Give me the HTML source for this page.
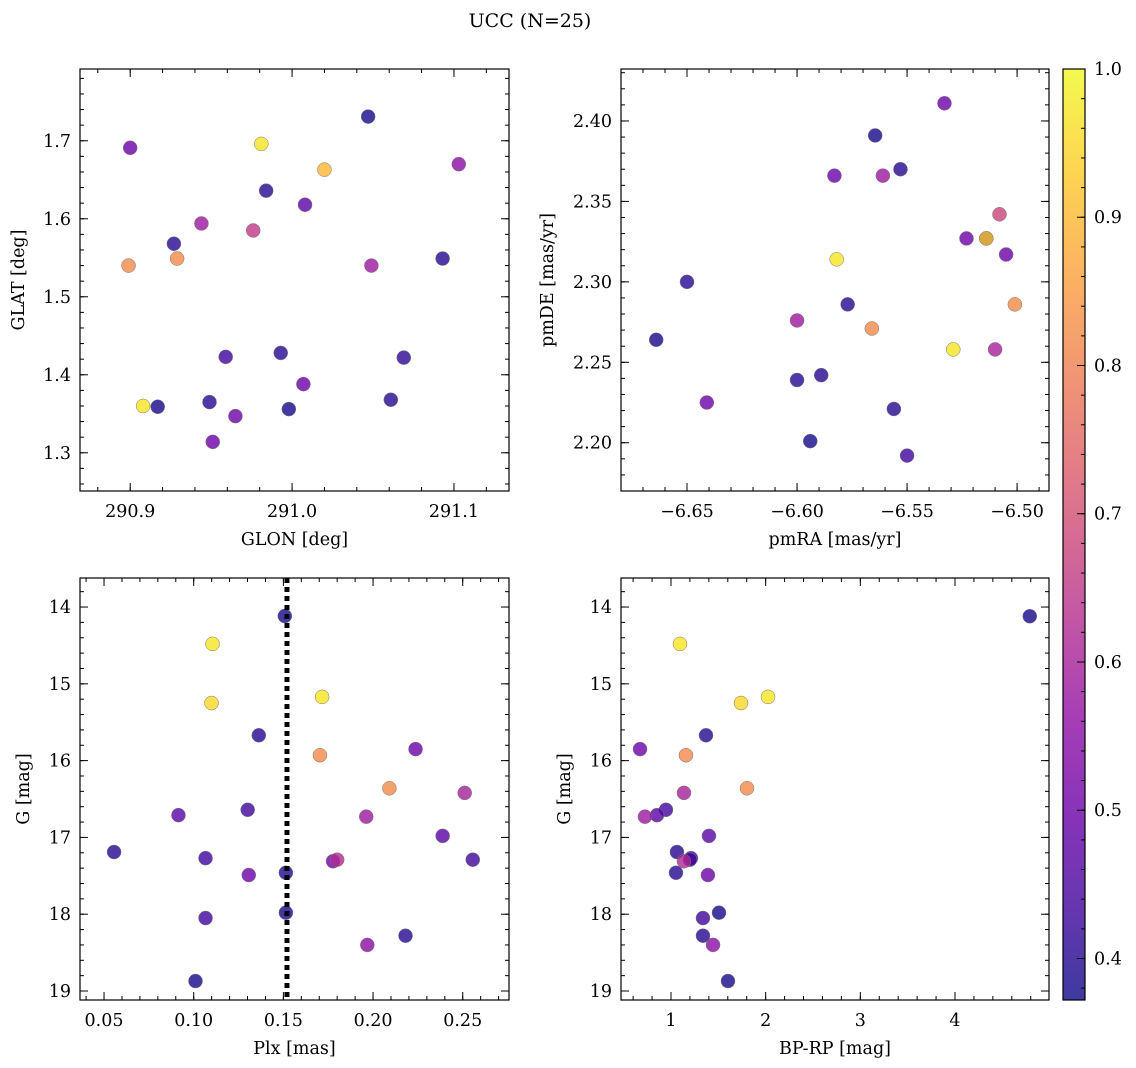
<!DOCTYPE html>
<html><head><meta charset="utf-8">
<style>
body{margin:0;background:#fff;}
svg{display:block;font-family:"DejaVu Serif","Liberation Serif",serif;}
</style></head>
<body>
<svg id="chart" width="1136" height="1068" viewBox="0 0 1136 1068" xmlns="http://www.w3.org/2000/svg">
<defs>
<linearGradient id="plasma" x1="0" y1="1" x2="0" y2="0">
<stop offset="0" stop-color="#0d0887"/><stop offset="0.1" stop-color="#41049d"/><stop offset="0.2" stop-color="#6a00a8"/><stop offset="0.3" stop-color="#8f0da4"/><stop offset="0.4" stop-color="#b12a90"/><stop offset="0.5" stop-color="#cc4778"/><stop offset="0.6" stop-color="#e16462"/><stop offset="0.7" stop-color="#f2844b"/><stop offset="0.8" stop-color="#fca636"/><stop offset="0.9" stop-color="#fcce25"/><stop offset="1" stop-color="#f0f921"/>
</linearGradient>
</defs>
<text x="530" y="27" font-size="19" text-anchor="middle">UCC (N=25)</text>
</svg>
<script>
// ---- data ----
const glon=[290.900,290.981,291.047,291.020,291.103,290.984,291.008,290.944,290.976,290.927,290.929,290.899,291.049,291.093,290.959,290.993,291.069,291.007,290.908,290.917,290.949,290.965,290.998,291.061,290.951];
const glat=[1.691,1.696,1.731,1.663,1.670,1.636,1.618,1.594,1.585,1.568,1.549,1.540,1.540,1.549,1.423,1.428,1.422,1.388,1.360,1.359,1.365,1.347,1.356,1.368,1.314];
const probA=[0.5,0.97,0.38,0.9,0.55,0.4,0.47,0.58,0.65,0.4,0.82,0.82,0.58,0.4,0.43,0.4,0.41,0.5,0.97,0.38,0.4,0.5,0.38,0.4,0.5];
const pmra=[-6.533,-6.5645,-6.553,-6.583,-6.561,-6.508,-6.523,-6.514,-6.514,-6.505,-6.582,-6.650,-6.501,-6.577,-6.664,-6.600,-6.566,-6.529,-6.510,-6.589,-6.600,-6.641,-6.556,-6.594,-6.550];
const pmde=[2.411,2.391,2.370,2.366,2.366,2.342,2.327,2.327,2.327,2.317,2.314,2.300,2.286,2.286,2.264,2.276,2.271,2.258,2.258,2.242,2.239,2.225,2.221,2.201,2.192];
const probB=[0.5,0.38,0.4,0.5,0.58,0.68,0.5,0.4,0.92,0.5,0.97,0.4,0.82,0.4,0.38,0.58,0.82,0.97,0.6,0.4,0.4,0.5,0.4,0.38,0.43];
const plx=[0.1508,0.1105,0.1716,0.1099,0.1363,0.1704,0.2237,0.2091,0.2511,0.1301,0.0915,0.1962,0.2388,0.0556,0.1066,0.1777,0.180,0.2556,0.1514,0.1307,0.1066,0.1514,0.2181,0.1968,0.101];
const gmagC=[14.117,14.48,15.17,15.25,15.67,15.93,15.85,16.36,16.42,16.64,16.71,16.73,16.98,17.19,17.27,17.31,17.29,17.29,17.46,17.49,18.05,17.98,18.28,18.40,18.87];
const probC=[0.38,0.97,0.97,0.95,0.4,0.82,0.5,0.82,0.6,0.43,0.47,0.58,0.47,0.4,0.43,0.5,0.62,0.43,0.4,0.5,0.43,0.38,0.4,0.55,0.38];
const bprp=[4.79,1.095,2.025,1.74,1.37,0.673,1.158,1.803,1.137,0.947,0.852,0.725,1.401,1.063,1.211,1.2,1.137,1.053,1.39,1.338,1.507,1.338,1.444,1.602];
const gmagD=[14.12,14.48,15.17,15.25,15.67,15.85,15.93,16.36,16.42,16.64,16.71,16.73,16.98,17.19,17.27,17.29,17.31,17.46,17.49,18.05,17.98,18.28,18.40,18.87];
const probD=[0.38,0.97,0.97,0.95,0.4,0.5,0.82,0.82,0.6,0.43,0.47,0.58,0.47,0.4,0.43,0.43,0.62,0.4,0.5,0.43,0.38,0.4,0.55,0.38];
const plxLine=[0.152];
const ticksA_x=[290.9,291.0,291.1], ticksA_y=[1.3,1.4,1.5,1.6,1.7];
const ticksB_x=[-6.65,-6.60,-6.55,-6.50], ticksB_y=[2.20,2.25,2.30,2.35,2.40];
const ticksC_x=[0.05,0.10,0.15,0.20,0.25], ticksG=[14,15,16,17,18,19];
const ticksD_x=[1,2,3,4];
const ticksCb=[0.4,0.5,0.6,0.7,0.8,0.9,1.0];
// ---- helpers ----
const NS="http://www.w3.org/2000/svg";
const svg=document.getElementById('chart');
function mk(tag,attrs,parent){const e=document.createElementNS(NS,tag);for(const k in attrs)e.setAttribute(k,attrs[k]);(parent||svg).appendChild(e);return e;}
const stops=[[0,[13,8,135]],[0.1,[65,4,157]],[0.2,[106,0,168]],[0.3,[143,13,164]],[0.4,[177,42,144]],[0.5,[204,71,120]],[0.6,[225,100,98]],[0.7,[242,132,75]],[0.8,[252,166,54]],[0.9,[252,206,37]],[1,[240,249,33]]];
const vmin=0.372,vmax=1.0;
function plasma(v){let t=(v-vmin)/(vmax-vmin);t=Math.max(0,Math.min(1,t));
 for(let i=1;i<stops.length;i++){if(t<=stops[i][0]){const a=stops[i-1],b=stops[i];const f=(t-a[0])/(b[0]-a[0]);
 const c=a[1].map((x,j)=>Math.round(x+(b[1][j]-x)*f));return `rgb(${c[0]},${c[1]},${c[2]})`;}}return 'rgb(240,249,33)';}
const FS=17.5;
function panel(p){
 const g=mk('g',{});
 
 
 const sx=v=>p.x0+(v-p.xmin)/(p.xmax-p.xmin)*(p.x1-p.x0);
 const sy=v=>p.y1-(v-p.ymin)/(p.ymax-p.ymin)*(p.y1-p.y0);
 const pts=mk('g',{},g);
 
 
 for(let i=0;i<p.xs.length;i++){
  const c=mk('circle',{cx:sx(p.xs[i]),cy:sy(p.ys[i]),r:7,fill:plasma(p.cs[i]),'fill-opacity':0.8,stroke:'#777','stroke-width':0.5},pts);
  
  
 }
 if(p.vline){for(const v of p.vline){const l=mk('line',{x1:sx(v),x2:sx(v),y1:p.y0,y2:p.y1,stroke:'#000','stroke-width':5,'stroke-dasharray':'5 4'},g);
  
  }}
 const fr=mk('rect',{x:p.x0,y:p.y0,width:p.x1-p.x0,height:p.y1-p.y0,fill:'none',stroke:'#000','stroke-width':1.2},g);
 
 
 const tk=mk('g',{stroke:'#000','stroke-width':1},g);
 const lo=(a,b)=>Math.min(a,b),hi=(a,b)=>Math.max(a,b);
 for(let v=Math.ceil(lo(p.xmin,p.xmax)/p.xminor-1e-6)*p.xminor;v<=hi(p.xmin,p.xmax)+1e-9;v+=p.xminor){const X=sx(v);mk('line',{x1:X,x2:X,y1:p.y1,y2:p.y1-4},tk);mk('line',{x1:X,x2:X,y1:p.y0,y2:p.y0+4},tk);}
 for(let v=Math.ceil(lo(p.ymin,p.ymax)/p.yminor-1e-6)*p.yminor;v<=hi(p.ymin,p.ymax)+1e-9;v+=p.yminor){const Y=sy(v);mk('line',{x1:p.x0,x2:p.x0+4,y1:Y,y2:Y},tk);mk('line',{x1:p.x1,x2:p.x1-4,y1:Y,y2:Y},tk);}
 for(const v of p.xt){const X=sx(v);mk('line',{x1:X,x2:X,y1:p.y1,y2:p.y1-8},tk);mk('line',{x1:X,x2:X,y1:p.y0,y2:p.y0+8},tk);
  const t=mk('text',{x:X,y:p.y1+26,'font-size':FS,'text-anchor':'middle'},g);t.textContent=p.xfmt(v);
  
  }
 for(const v of p.yt){const Y=sy(v);mk('line',{x1:p.x0,x2:p.x0+8,y1:Y,y2:Y},tk);mk('line',{x1:p.x1,x2:p.x1-8,y1:Y,y2:Y},tk);
  const t=mk('text',{x:p.x0-9,y:Y+6,'font-size':FS,'text-anchor':'end'},g);t.textContent=p.yfmt(v);
  
  }
 const xl=mk('text',{x:(p.x0+p.x1)/2,y:p.y1+54,'font-size':FS,'text-anchor':'middle'},g);xl.textContent=p.xlabel;
 
 
 const yl=mk('text',{x:0,y:0,'font-size':FS,'text-anchor':'middle',transform:`translate(${p.ylx},${(p.y0+p.y1)/2}) rotate(-90)`},g);yl.textContent=p.ylabel;
 
 
}
const f1=v=>v.toFixed(1),f2=v=>v.toFixed(2).replace('-','\u2212'),f0=v=>String(v);
panel({name:'glon-glat-panel',x0:80,x1:509,y0:69,y1:491,xmin:290.869,xmax:291.134,ymin:1.251,ymax:1.792,xs:glon,ys:glat,cs:probA,xt:ticksA_x,yt:ticksA_y,xminor:0.02,yminor:0.02,xfmt:f1,yfmt:f1,xlabel:'GLON [deg]',ylabel:'GLAT [deg]',ylx:24});
panel({name:'propermotion-panel',x0:621,x1:1049,y0:69,y1:491,xmin:-6.68,xmax:-6.4855,ymin:2.170,ymax:2.4323,xs:pmra,ys:pmde,cs:probB,xt:ticksB_x,yt:ticksB_y,xminor:0.01,yminor:0.01,xfmt:f2,yfmt:f2,xlabel:'pmRA [mas/yr]',ylabel:'pmDE [mas/yr]',ylx:553});
panel({name:'plx-g-panel',x0:80,x1:509,y0:578,y1:1000,xmin:0.0366,xmax:0.2758,ymin:19.117,ymax:13.622,xs:plx,ys:gmagC,cs:probC,xt:ticksC_x,yt:ticksG,xminor:0.01,yminor:0.2,xfmt:f2,yfmt:f0,xlabel:'Plx [mas]',ylabel:'G [mag]',ylx:29,vline:plxLine});
panel({name:'cmd-panel',x0:621,x1:1049,y0:578,y1:1000,xmin:0.472,xmax:4.993,ymin:19.117,ymax:13.622,xs:bprp,ys:gmagD,cs:probD,xt:ticksD_x,yt:ticksG,xminor:0.2,yminor:0.2,xfmt:f0,yfmt:f0,xlabel:'BP-RP [mag]',ylabel:'G [mag]',ylx:570});
// colorbar
const cb=mk('g',{});


const cx0=1063,cx1=1085,cy0=69,cy1=1000;
const cby=v=>cy1-(v-vmin)/(vmax-vmin)*(cy1-cy0);
mk('rect',{x:cx0,y:cy0,width:cx1-cx0,height:cy1-cy0,fill:'url(#plasma)','fill-opacity':0.8,stroke:'#000','stroke-width':1.2},cb);
for(let v=0.38;v<=1.0001;v+=0.02){mk('line',{x1:cx1,x2:cx1-4,y1:cby(v),y2:cby(v),stroke:'#000'},cb);}
for(const v of ticksCb){const Y=cby(v);mk('line',{x1:cx1,x2:cx1-8,y1:Y,y2:Y,stroke:'#000'},cb);
 const t=mk('text',{x:cx1+9,y:Y+6,'font-size':FS},cb);t.textContent=v.toFixed(1);
 
 }
</script>
</body></html>
